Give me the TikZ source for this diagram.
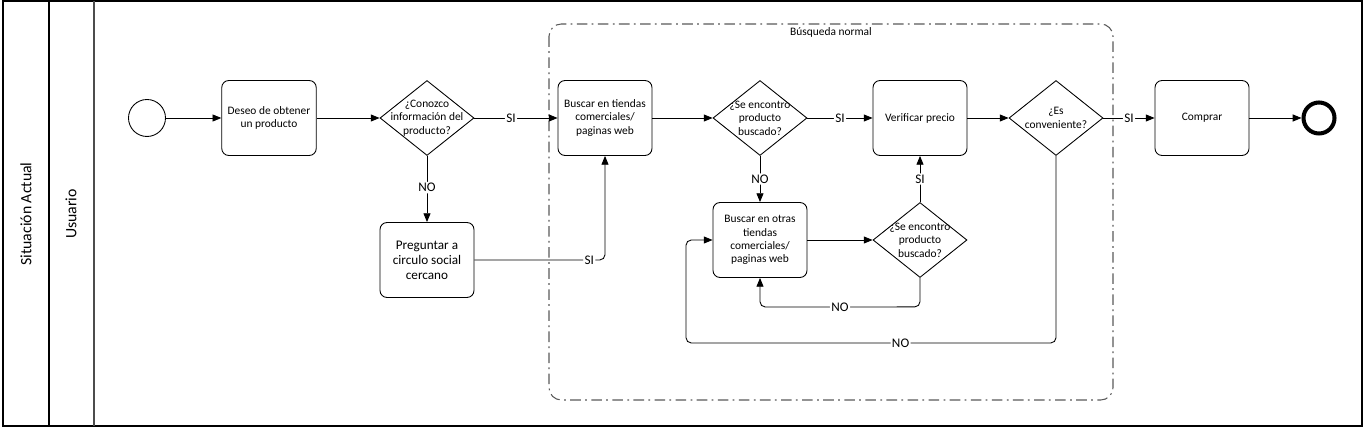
\documentclass[tikz,border=0pt]{standalone}
\usepackage{fontspec}
\setmainfont{Carlito}
\usepackage{tikz}
\usetikzlibrary{positioning}
\usetikzlibrary{shapes.geometric,arrows.meta}

\tikzset{
	task/.style={draw, rounded corners=4pt, minimum width=1.88cm, minimum height=1.5cm,
		align=center, font=\fontsize{6.5}{7.6}\selectfont},
	bigtask/.style={task, font=\fontsize{7.5}{8.6}\selectfont},
	decision/.style={draw, diamond, minimum width=1.88cm, minimum height=1.5cm, inner sep=0pt},
	dtext/.style={align=center, font=\fontsize{6.5}{7.6}\selectfont},
	flow/.style={-{Triangle[length=5pt,width=4pt]}, rounded corners=3pt},
	lbl/.style={fill=white, inner sep=0.8pt, font=\fontsize{7.5}{8}\selectfont},
	lane/.style={font=\fontsize{9}{10}\selectfont, rotate=90},
}

\begin{document}
\begin{tikzpicture}[x=0.02cm, y=-0.02cm, line width=0.5pt]

	\useasboundingbox (0,0) rectangle (1365,428);

	% ---------------------
	% Pool & lane
	\draw[line width=0.9pt] (3,1) rectangle (1362,426);
	\coordinate (PoolTop) at (49,1);
	\coordinate (PoolBottom) at (49,426);
	\coordinate (LaneTop) at (94,1);
	\coordinate (LaneBottom) at (94,426);
	\draw[line width=0.7pt] (PoolTop) -- (PoolBottom);
	\draw[line width=0.9pt, black!70] (LaneTop) -- (LaneBottom);
	\node[lane] (Pool) at (26,214) {Situación Actual};
	\node[lane] (Lane) at (71,214) {Usuario};

	% ---------------------
	% Busqueda normal group
	\draw[black!65, line width=0.6pt, dash pattern=on 6pt off 2.5pt on 1pt off 2.5pt, rounded corners=7pt]
		(549,24) rectangle (1113,400);
	\node[font=\fontsize{6.5}{7.5}\selectfont] (Group) at (831,32) {Búsqueda normal};

	% ---------------------
	% Main row
	\node[draw, circle, minimum size=0.74cm, inner sep=0pt] (Start) at (147,118) {};
	\node[task] (Wish) at (269,118) {Deseo de obtener\\un producto};
	\node[decision, label={[dtext]center:{¿Conozco\\información del\\producto?}}] (KnowInfo) at (427,118) {};
	\node[task] (SearchShops) at (605,118) {Buscar en tiendas\\comerciales/\\paginas web};
	\node[decision, label={[dtext]center:{¿Se encontro\\producto\\buscado?}}] (FoundA) at (760,118) {};
	\node[task] (CheckPrice) at (920,118) {Verificar precio};
	\node[decision, label={[dtext]center:{¿Es\\conveniente?}}] (Convenient) at (1056,118) {};
	\node[task] (Buy) at (1202,118) {Comprar};
	\node[draw, circle, line width=2.3pt, minimum size=0.62cm, inner sep=0pt] (End) at (1319,118) {};

	% ---------------------
	% Lower row
	\node[bigtask] (AskFriends) at (427,260) {Preguntar a\\circulo social\\cercano};
	\node[task] (SearchOther) at (760,240) {Buscar en otras\\tiendas\\comerciales/\\paginas web};
	\node[decision, label={[dtext]center:{¿Se encontro\\producto\\buscado?}}] (FoundB) at (920,240) {};

	% ------------------------------------------------
	% Flows
	\draw[flow] (Start) -- (Wish);
	\draw[flow] (Wish) -- (KnowInfo);
	\draw[flow] (KnowInfo) -- node[lbl, pos=0.44] (SiA) {SI} (SearchShops);
	\draw[flow] (KnowInfo) -- node[lbl, pos=0.48] (NoA) {NO} (AskFriends);
	\draw[flow] (AskFriends.east) -- node[lbl, pos=0.88] (SiB) {SI} (SearchShops.south |- AskFriends.east) -- (SearchShops.south);

	\draw[flow] (SearchShops) -- (FoundA);
	\draw[flow] (FoundA) -- node[lbl, pos=0.5] (SiC) {SI} (CheckPrice);
	\draw[flow] (FoundA) -- node[lbl, pos=0.5] (NoB) {NO} (SearchOther);
	\draw[flow] (SearchOther) -- (FoundB);
	\draw[flow] (FoundB) -- node[lbl, pos=0.5] (SiD) {SI} (CheckPrice);
	\draw[flow] (FoundB.south) -- ++(0,29) -- node[lbl, pos=0.5] (NoC) {NO} (SearchOther.south |- 0,307) -- (SearchOther.south);

	\draw[flow] (CheckPrice) -- (Convenient);
	\draw[flow] (Convenient) -- node[lbl, pos=0.5] (SiE) {SI} (Buy);
	\draw[flow] (Buy) -- (End);
	\draw[flow] (Convenient.south) -- (1056,343) -- node[lbl, pos=0.42] (NoD) {NO} (686,343) -- (686,240) -- (SearchOther.west);

\end{tikzpicture}
\end{document}
